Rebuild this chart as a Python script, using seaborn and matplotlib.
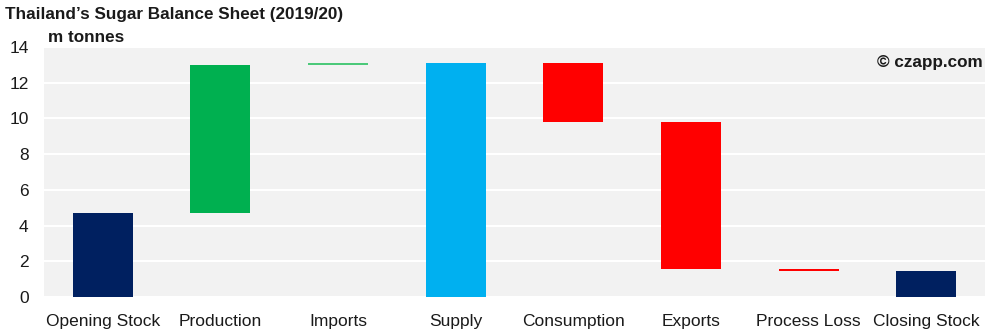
import matplotlib
matplotlib.use("Agg")
import matplotlib.pyplot as plt
import seaborn as sns
import pandas as pd

# Thailand sugar balance sheet, 2019/20 (million tonnes)
categories = ["Opening Stock", "Production", "Imports", "Supply",
              "Consumption", "Exports", "Process Loss", "Closing Stock"]
bar_bottoms = [0.0, 4.7, 13.0, 0.0, 9.8, 1.55, 1.45, 0.0]
bar_heights = [4.7, 8.3, 0.1, 13.1, 3.3, 8.25, 0.1, 1.45]
bar_colors = ["#002060", "#00B050", "#4CC97A", "#00B0F0",
              "#FF0000", "#FF0000", "#FF0000", "#002060"]
y_ticks = [0, 2, 4, 6, 8, 10, 12, 14]

df = pd.DataFrame({"item": categories, "height": bar_heights, "bottom": bar_bottoms})

sns.set_theme(style="white")
plt.rcParams["font.family"] = ["Liberation Sans", "DejaVu Sans"]

fig = plt.figure(figsize=(9.98, 3.34), dpi=100)
ax = fig.add_axes([0.0441, 0.111, 0.943, 0.748])
ax.set_facecolor("#F2F2F2")

sns.barplot(data=df, x="item", y="height", hue="item", palette=bar_colors,
            order=categories, hue_order=categories, width=0.51, saturation=1,
            legend=False, ax=ax, linewidth=0, zorder=3)

# Float each waterfall bar up to its starting level
for patch in ax.patches:
    idx = int(round(patch.get_x() + patch.get_width() / 2))
    patch.set_y(bar_bottoms[idx])

ax.set_ylim(0, 14)
ax.set_xlim(-0.5, len(categories) - 0.5)
ax.set_yticks(y_ticks)
ax.yaxis.grid(True, color="white", linewidth=1.5, zorder=0)
ax.set_axisbelow(True)
for s in ax.spines.values():
    s.set_visible(False)
ax.tick_params(axis="both", length=0, labelsize=12.5, colors="#1a1a1a")
ax.tick_params(axis="y", pad=11)
ax.tick_params(axis="x", pad=12)
ax.set_xlabel("")
ax.set_ylabel("")

fig.text(0.005, 0.958, "Thailand\u2019s Sugar Balance Sheet (2019/20)",
         fontsize=12.3, fontweight="bold", color="#1a1a1a", va="center", ha="left")
fig.text(0.048, 0.889, "m tonnes", fontsize=12.3, fontweight="bold",
         color="#1a1a1a", va="center", ha="left")
ax.text(0.997, 0.94, "\u00a9 czapp.com", transform=ax.transAxes,
        fontsize=12.3, fontweight="bold", color="#1a1a1a", ha="right", va="center")

fig.savefig("out.png", dpi=100, facecolor="white")
